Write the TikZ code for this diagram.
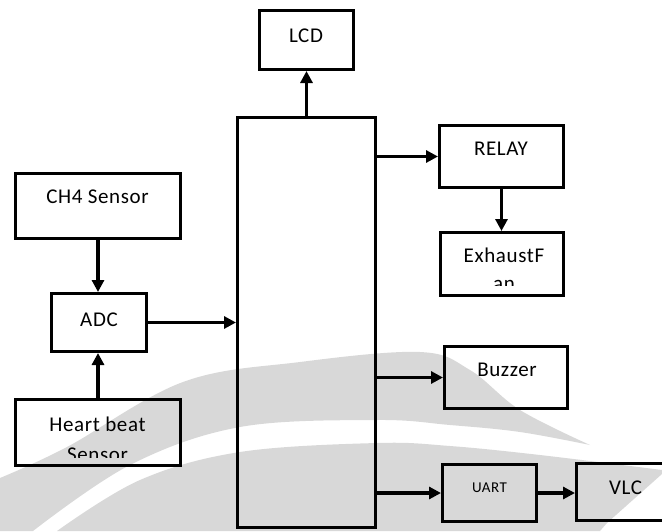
\documentclass[tikz,border=0pt]{standalone}
\usepackage{fontspec}
\setmainfont{Carlito}[LetterSpace=3]
\usetikzlibrary{arrows.meta}
\definecolor{wm}{RGB}{216,216,216}
\begin{document}
\begin{tikzpicture}[x=1pt,y=-1pt,
  box/.style={draw=black, line width=3.2pt, rectangle, inner sep=0pt},
  arr/.style={line width=3.2pt, -{Triangle[length=12pt,width=12pt]}},
  lbl/.style={anchor=base, inner sep=0pt, font=\fontsize{21}{25}\selectfont},
  smalllbl/.style={anchor=base, inner sep=0pt, font=\fontsize{15}{18}\selectfont}]
\useasboundingbox (0,0) rectangle (662,531);
\clip (0,0) rectangle (662,531);
% watermark
\fill[wm] plot[smooth, tension=0.6] coordinates {(0,478) (67,447) (183,382) (300,362) (420,352) (470,370) (520,410) (590,445)}
  -- plot[smooth, tension=0.6] coordinates {(590,445) (520,432) (450,425) (377,420) (240,427) (130,465) (33,531)}
  -- (0,531) -- cycle;
\fill[wm] plot[smooth, tension=0.6] coordinates {(57,531) (140,480) (240,452) (377,443) (450,446) (540,455) (662,470)}
  -- (662,474) -- (607,523) -- (600,531) -- cycle;
% boxes
\node[box, minimum width=93.8pt, minimum height=58.8pt] (lcd) at (306.5,40) {};
\node[box, minimum width=137.8pt, minimum height=409.8pt] (mcu) at (306.5,322.5) {};
\node[box, minimum width=164.8pt, minimum height=64.8pt] (ch4) at (98,206) {};
\node[box, minimum width=94.8pt, minimum height=57.8pt] (adc) at (99,322.5) {};
\node[box, minimum width=164.8pt, minimum height=65.8pt] (heart) at (98,432.5) {};
\node[box, minimum width=123.8pt, minimum height=61.8pt] (relay) at (501.5,156.5) {};
\node[box, minimum width=122.8pt, minimum height=62.8pt] (fan) at (502,264) {};
\node[box, minimum width=122.8pt, minimum height=61.8pt] (buzzer) at (506,377.5) {};
\node[box, minimum width=93.8pt, minimum height=56.8pt] (uart) at (489.5,493) {};
\node[box, minimum width=97.8pt, minimum height=56.8pt] (vlc) at (625.5,492) {};
% labels
\node[lbl] (tlcd) at (306,42) {LCD};
\node[lbl] (tch4) at (97.5,203) {CH4 Sensor};
\node[lbl] (tadc) at (99,326) {ADC};
\begin{scope}
  \clip (16,400) rectangle (180,457);
  \node[lbl] (theart1) at (97.5,431) {Heart beat};
  \node[lbl] (theart2) at (97.5,461) {Sensor};
\end{scope}
\node[lbl] (trelay) at (501,155) {RELAY};
\begin{scope}
  \clip (441,233) rectangle (563,285);
  \node[lbl] (tfan1) at (504,262) {ExhaustF};
  \node[lbl] (tfan2) at (504,290) {an};
\end{scope}
\node[lbl] (tbuzzer) at (507,376) {Buzzer};
\node[smalllbl] (tuart) at (489.5,492) {UART};
\node[lbl] (tvlc) at (625.5,494) {VLC};
% connectors
\draw[arr] (lcd.south |- mcu.north) -- (lcd.south);
\draw[arr] (ch4.south) -- (ch4.south |- adc.north);
\draw[arr] (heart.north) -- (heart.north |- adc.south);
\draw[arr] (adc.east) -- (adc.east -| mcu.west);
\draw[arr] (mcu.east |- relay.west) -- (relay.west);
\draw[arr] (relay.south) -- (relay.south |- fan.north);
\draw[arr] (mcu.east |- buzzer.west) -- (buzzer.west);
\draw[arr] (mcu.east |- uart.west) -- (uart.west);
\draw[arr] (uart.east) -- (uart.east -| vlc.west);
\end{tikzpicture}
\end{document}
